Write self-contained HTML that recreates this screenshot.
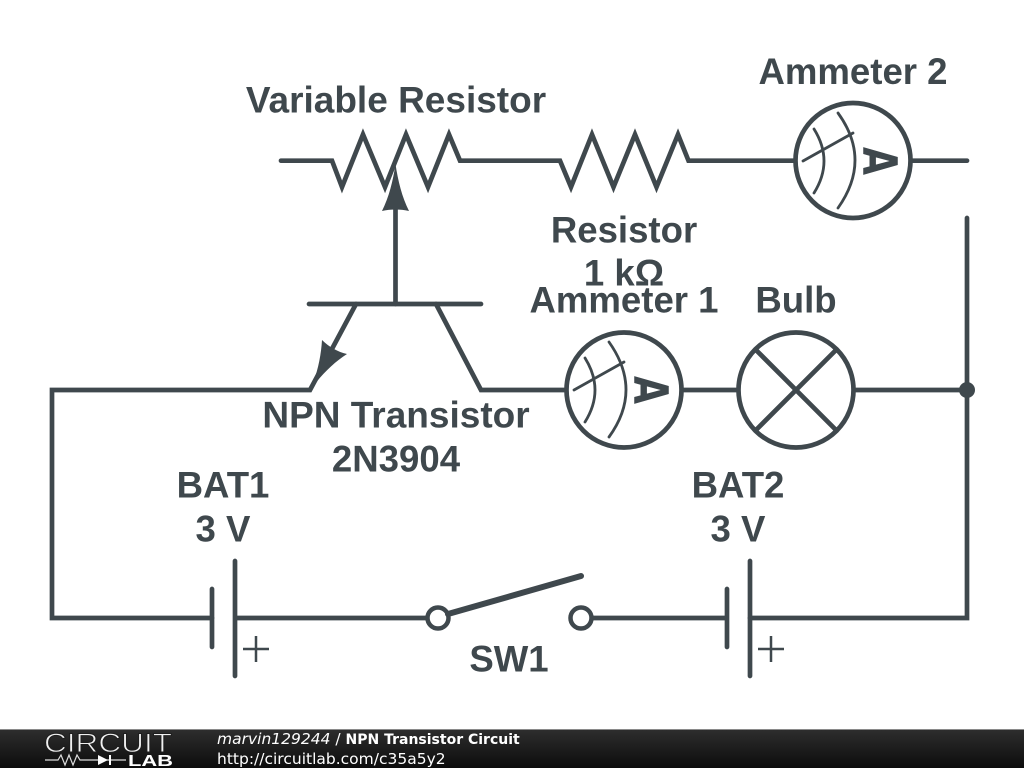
<!DOCTYPE html>
<html><head><meta charset="utf-8"><style>
html,body{margin:0;padding:0;background:#fff;width:1024px;height:768px;overflow:hidden}
svg{display:block}
.w{fill:none;stroke:#3f484d;stroke-width:4.7;stroke-linecap:round;stroke-linejoin:miter}
.t{fill:none;stroke:#3f484d;stroke-width:2.8;stroke-linecap:round}
.l{font-family:"Liberation Sans",sans-serif;font-weight:bold;font-size:36.6px;fill:#3f484d;text-anchor:middle}
.f{font-family:"DejaVu Sans",sans-serif;font-size:15.5px;fill:#fff}
</style></head><body>
<svg width="1024" height="768" viewBox="0 0 1024 768" xmlns="http://www.w3.org/2000/svg">
<defs><linearGradient id="g" x1="0" y1="0" x2="0" y2="1"><stop offset="0" stop-color="#2e2e2e"/><stop offset="1" stop-color="#0c0c0c"/></linearGradient></defs>
<rect width="1024" height="768" fill="#fff"/>
<path class="w" d="M281 160.700H332L342 187L363 134.500L385 187L406 134.500L428 187L449 134.500L460 160.700H560L571 187L592 134.500L613.500 187L635 134.500L656.500 187L678 134.500L688.500 160.700H795"/>
<path class="w" d="M911 160.700H967"/>
<path class="w" d="M967 218V618H750"/>
<path class="w" d="M395.500 304V200"/>
<path d="M395.500 164C398 181 402 197 409 211C401 209 390 209 382 211C389 197 393 181 395.500 164Z" fill="#3f484d"/>
<path class="w" d="M309 304H481"/>
<path class="w" d="M356 304L310 390H52V618H212"/>
<path class="w" d="M436 304L481 390H565"/>
<path d="M309 392C317 376 321 357 322 340C329 347 338 352 347 354C333 363 320 376 309 392Z" fill="#3f484d"/>
<path class="w" d="M683 390H738M855 390H967"/>
<circle cx="967" cy="390" r="8" fill="#3f484d"/>
<!-- Ammeter 2 -->
<circle class="w" cx="853" cy="160.500" r="57.500" fill="#fff"/>
<path class="t" d="M838 113Q872 160 838 208M814 129Q834 161 814 193M803 161L853 133"/>
<text transform="translate(863 161) rotate(90) scale(.77 1)" text-anchor="middle" font-family="DejaVu Sans,sans-serif" font-weight="bold" font-size="47" fill="#3f484d">A</text>
<!-- Ammeter 1 -->
<circle class="w" cx="624" cy="390" r="57.500" fill="#fff"/>
<path class="t" d="M609 342Q643 390 609 437M585 358Q605 390 585 422M574 390L624 362"/>
<text transform="translate(634 390) rotate(90) scale(.77 1)" text-anchor="middle" font-family="DejaVu Sans,sans-serif" font-weight="bold" font-size="47" fill="#3f484d">A</text>
<!-- Bulb -->
<circle class="w" cx="796" cy="390" r="57.500" fill="#fff"/>
<path class="w" stroke-linecap="butt" d="M755.500 349.500L836.500 430.500M836.500 349.500L755.500 430.500"/>
<!-- Batteries -->
<path class="w" d="M212 589V647M235 561V676M235 618H427M593 618H727M727 589V647M750 561V676"/>
<path d="M243 649H269M256 636V662M758 649H784M771 636V662" fill="none" stroke="#3f484d" stroke-width="2.500"/>
<!-- Switch -->
<circle cx="438" cy="618" r="10.500" fill="#fff" stroke="#3f484d" stroke-width="4.500"/>
<circle cx="581" cy="618" r="10.500" fill="#fff" stroke="#3f484d" stroke-width="4.500"/>
<path d="M448 614L581 576" fill="none" stroke="#3f484d" stroke-width="6" stroke-linecap="round"/>
<!-- Labels -->
<text class="l" x="853" y="84">Ammeter 2</text>
<text class="l" x="396" y="112.500" font-size="37" style="font-size:37px">Variable Resistor</text>
<text class="l" x="624" y="242.500">Resistor</text>
<text class="l" x="624" y="285.500">1 kΩ</text>
<text class="l" x="624" y="312.500">Ammeter 1</text>
<text class="l" x="796" y="312.500">Bulb</text>
<text class="l" x="396" y="427.500" style="font-size:37px">NPN Transistor</text>
<text class="l" x="396" y="471.500">2N3904</text>
<text class="l" x="223" y="497.500">BAT1</text>
<text class="l" x="223" y="541.500">3 V</text>
<text class="l" x="738" y="497.500">BAT2</text>
<text class="l" x="738" y="541.500">3 V</text>
<text class="l" x="509" y="671.500">SW1</text>
<!-- Footer -->
<rect x="0" y="729" width="1024" height="39" fill="url(#g)"/>
<rect x="0" y="729" width="1024" height="1" fill="#8a8a8a"/>
<text x="44" y="752" font-family="Liberation Sans,sans-serif" font-size="27" fill="#f0f0f0" stroke="#1e1e1e" stroke-width=".9" textLength="128" lengthAdjust="spacingAndGlyphs">CIRCUIT</text>
<path d="M45 760H58L61 755L65 765L69 755L73 765L77 755L80 760H126" fill="none" stroke="#ddd" stroke-width="1.200"/>
<path d="M98 755L108 760L98 765Z M109 755H111V765H109Z" fill="#fff"/>
<text x="128" y="766" font-family="Liberation Sans,sans-serif" font-weight="bold" font-size="16" fill="#fff" textLength="45" lengthAdjust="spacingAndGlyphs">LAB</text>
<text class="f" x="217" y="744"><tspan font-style="italic">marvin129244</tspan> / <tspan font-weight="bold" font-size="14">NPN Transistor Circuit</tspan></text>
<text class="f" x="217" y="764">http://circuitlab.com/c35a5y2</text>
</svg>
</body></html>
